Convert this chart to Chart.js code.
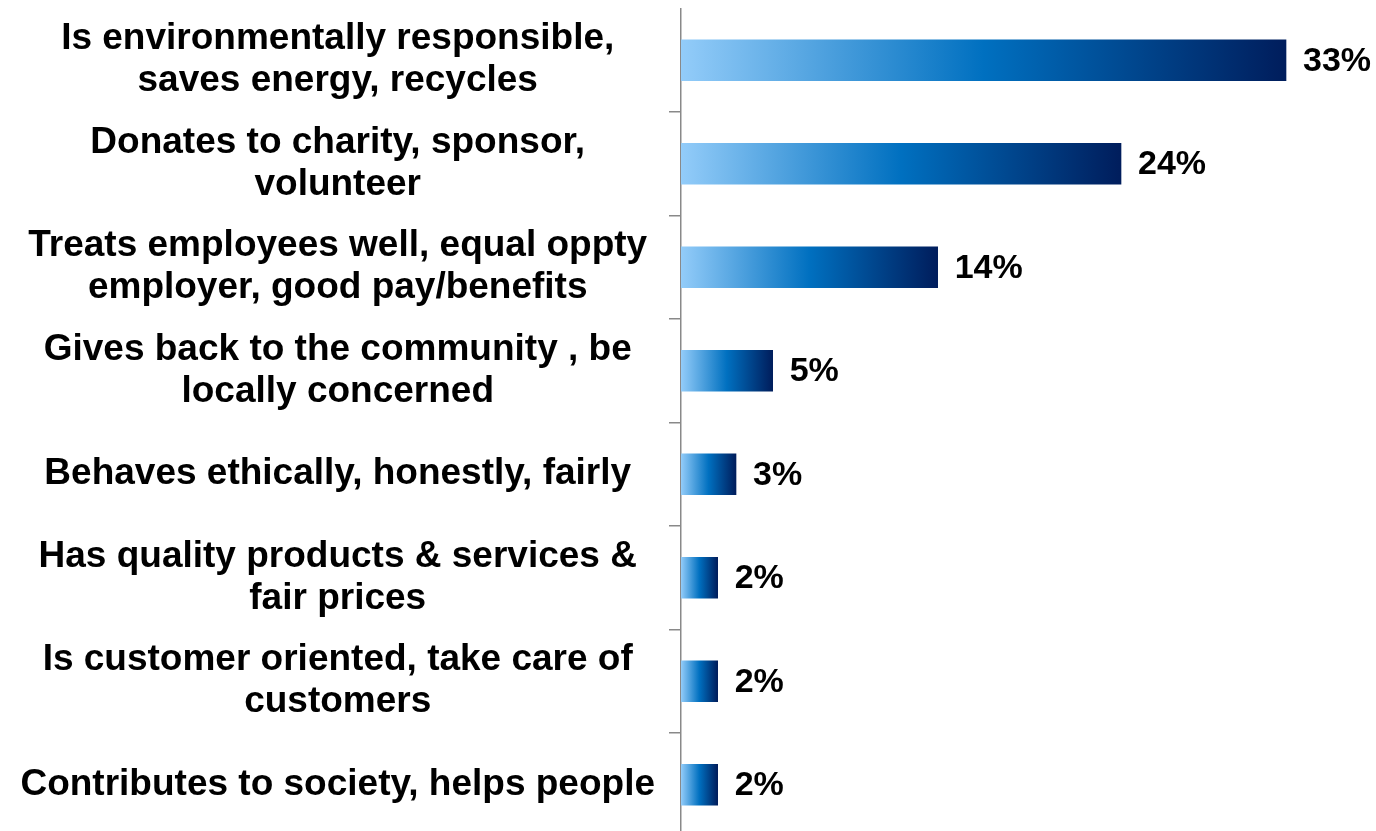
<!DOCTYPE html>
<html>
<head>
<meta charset="utf-8">
<script src="https://cdn.jsdelivr.net/npm/chart.js@4.4.0/dist/chart.umd.min.js"></script>
<style>
html, body { margin: 0; padding: 0; background: #ffffff; overflow: hidden; }
</style>
</head>
<body>
<canvas id="barChart" width="1376" height="840"></canvas>
<script>
const categories = [
    ["Is environmentally responsible,", "saves energy, recycles"],
    ["Donates to charity, sponsor,", "volunteer"],
    ["Treats employees well, equal oppty", "employer, good pay/benefits"],
    ["Gives back to the community , be", "locally concerned"],
    "Behaves ethically, honestly, fairly",
    ["Has quality products & services &", "fair prices"],
    ["Is customer oriented, take care of", "customers"],
    "Contributes to society, helps people"
];
const shares = [33, 24, 14, 5, 3, 2, 2, 2];

const fontFamily = "'Liberation Sans', Arial, sans-serif";
const axisGray = "#898989";

const ctx = document.getElementById("barChart").getContext("2d");

// left-to-right fade: sky blue -> corporate blue -> navy, spread over each bar
function barGradient(context) {
    const chart = context.chart;
    const xScale = chart.scales.x;
    if (!xScale || !chart.chartArea) return "#0070C0";
    const value = context.raw;
    const x0 = xScale.getPixelForValue(0);
    const x1 = xScale.getPixelForValue(value);
    if (x1 - x0 < 1) return "#0070C0";
    const g = chart.ctx.createLinearGradient(x0, 0, x1, 0);
    g.addColorStop(0, "#93CCF9");
    g.addColorStop(0.5, "#0070C0");
    g.addColorStop(1, "#001D5C");
    return g;
}

// percentage labels to the right of each bar
const valueLabels = {
    id: "valueLabels",
    afterDatasetsDraw(chart) {
        const c = chart.ctx;
        const meta = chart.getDatasetMeta(0);
        c.save();
        c.font = "bold 34px " + fontFamily;
        c.fillStyle = "#000000";
        c.textAlign = "left";
        c.textBaseline = "middle";
        meta.data.forEach((bar, i) => {
            c.fillText(shares[i] + "%", bar.x + 17, bar.y + 1);
        });
        c.restore();
    }
};

const chart = new Chart(ctx, {
    type: "bar",
    data: {
        labels: categories,
        datasets: [{
            data: shares,
            backgroundColor: barGradient,
            borderWidth: 0,
            barThickness: 41
        }]
    },
    options: {
        indexAxis: "y",
        responsive: false,
        animation: false,
        layout: {
            padding: { top: 8.5, bottom: 3.5, left: 0, right: 35 }
        },
        plugins: {
            legend: { display: false },
            tooltip: { enabled: false }
        },
        scales: {
            x: {
                display: false,
                min: 0,
                max: 36
            },
            y: {
                afterFit: (scale) => {
                    // fixed label column; two-line labels may spill past the plot edges
                    scale.width = 681;
                    scale.paddingTop = 0;
                    scale.paddingBottom = 0;
                },
                border: { display: true, color: axisGray, width: 1.5 },
                grid: {
                    drawOnChartArea: false,
                    drawTicks: true,
                    tickLength: 12,
                    lineWidth: 1.5,
                    color: (c) => c.index === 0 ? "rgba(0,0,0,0)" : axisGray
                },
                ticks: {
                    color: "#000000",
                    crossAlign: "center",
                    padding: 14,
                    font: { family: fontFamily, size: 37, weight: "bold", lineHeight: 1.135 }
                }
            }
        }
    },
    plugins: [valueLabels]
});
</script>
</body>
</html>
